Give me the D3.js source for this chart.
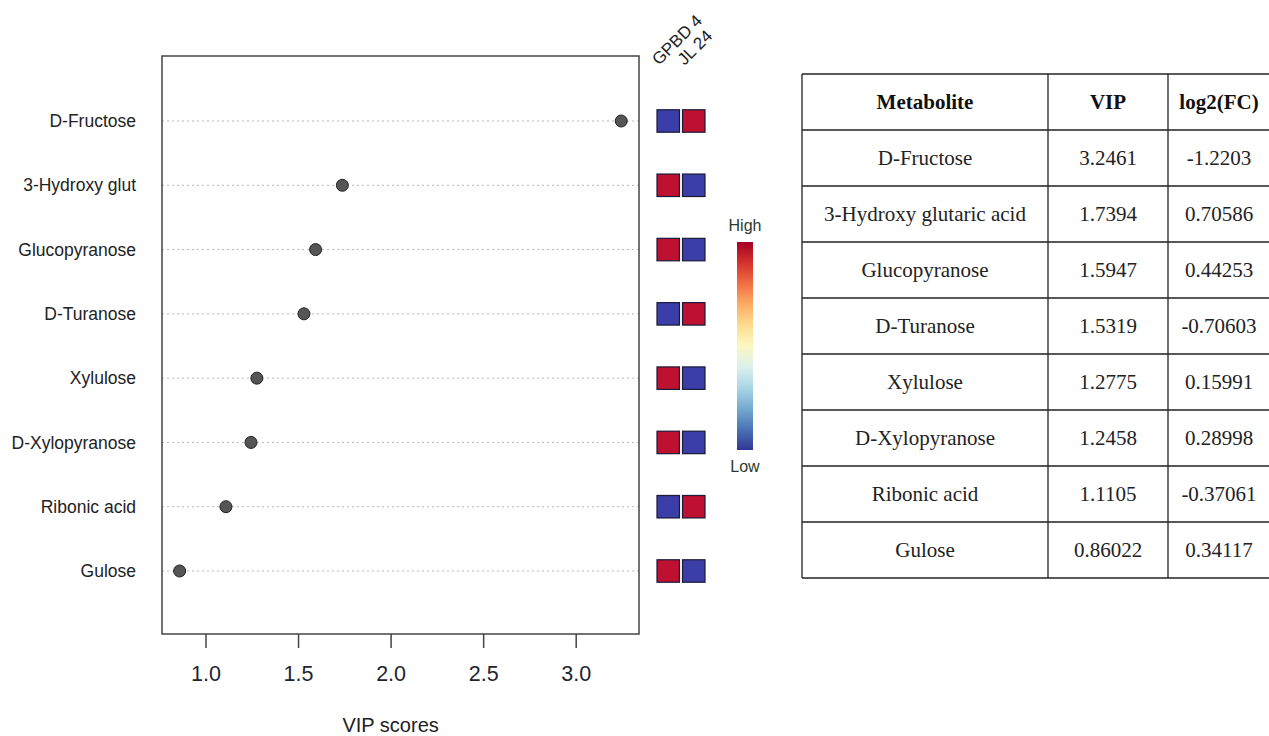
<!DOCTYPE html>
<html>
<head>
<meta charset="utf-8">
<script src="https://cdn.jsdelivr.net/npm/d3@7"></script>
<style>
  body { margin: 0; background: #fff; }
  svg { display: block; }
</style>
</head>
<body>
<div id="wrapper"></div>
<script>
// Data
const metabolites = ['D-Fructose', '3-Hydroxy glut', 'Glucopyranose', 'D-Turanose',
  'Xylulose', 'D-Xylopyranose', 'Ribonic acid', 'Gulose']
const fullNames = ['D-Fructose', '3-Hydroxy glutaric acid', 'Glucopyranose', 'D-Turanose',
  'Xylulose', 'D-Xylopyranose', 'Ribonic acid', 'Gulose']
const vipScores = [3.2461, 1.7394, 1.5947, 1.5319, 1.2775, 1.2458, 1.1105, 0.86022]
const vipText = ['3.2461', '1.7394', '1.5947', '1.5319', '1.2775', '1.2458', '1.1105', '0.86022']
const log2fcText = ['-1.2203', '0.70586', '0.44253', '-0.70603', '0.15991', '0.28998', '-0.37061', '0.34117']
const groups = ['GPBD 4', 'JL 24']
const gpbdLevel = ['low', 'high', 'high', 'low', 'high', 'high', 'low', 'high']
const jlLevel = ['high', 'low', 'low', 'high', 'low', 'low', 'high', 'low']
const xTicks = [1.0, 1.5, 2.0, 2.5, 3.0]
const tableHeader = ['Metabolite', 'VIP', 'log2(FC)']

const width = 1269
const height = 736
const sans = 'Liberation Sans, Arial, sans-serif'
const serif = 'Liberation Serif, Times New Roman, serif'

const box = { left: 162, right: 639, top: 56, bottom: 634 }

const svg = d3.select('#wrapper')
  .append('svg')
    .attr('width', width)
    .attr('height', height)

// Scales
const xScale = d3.scaleLinear()
  .domain([0.765, 3.342])
  .range([box.left, box.right])

const yScale = d3.scalePoint()
  .domain(metabolites)
  .range([121, 571])

// Grid lines
svg.append('g')
  .selectAll('line')
  .data(metabolites)
  .join('line')
    .attr('x1', box.left)
    .attr('x2', box.right)
    .attr('y1', d => yScale(d))
    .attr('y2', d => yScale(d))
    .attr('stroke', '#b8b8b8')
    .attr('stroke-width', 1)
    .attr('stroke-dasharray', '2,3')

// Box
svg.append('rect')
  .attr('x', box.left)
  .attr('y', box.top)
  .attr('width', box.right - box.left)
  .attr('height', box.bottom - box.top)
  .attr('fill', 'none')
  .attr('stroke', '#444')
  .attr('stroke-width', 1.5)

// Points
svg.append('g')
  .selectAll('circle')
  .data(metabolites)
  .join('circle')
    .attr('cx', (d, i) => xScale(vipScores[i]))
    .attr('cy', d => yScale(d))
    .attr('r', 6)
    .attr('fill', '#555')
    .attr('stroke', '#222')
    .attr('stroke-width', 1)

// Y labels
svg.append('g')
  .selectAll('text')
  .data(metabolites)
  .join('text')
    .attr('x', 136)
    .attr('y', d => yScale(d))
    .attr('dy', '0.35em')
    .attr('text-anchor', 'end')
    .attr('font-family', sans)
    .attr('font-size', 17.5)
    .attr('fill', '#222')
    .text(d => d)

// X axis
const xAxisGenerator = d3.axisBottom(xScale)
  .tickValues(xTicks)
  .tickFormat(d3.format('.1f'))
  .tickSize(14)
  .tickPadding(18)

const xAxis = svg.append('g')
  .attr('transform', `translate(0, ${box.bottom})`)
  .call(xAxisGenerator)
xAxis.select('.domain').remove()
xAxis.selectAll('line').attr('stroke', '#444').attr('stroke-width', 1.5)
xAxis.selectAll('text')
  .attr('font-family', sans)
  .attr('font-size', 21.5)
  .attr('fill', '#1e2430')

svg.append('text')
  .attr('x', xScale(2.0))
  .attr('y', 732)
  .attr('text-anchor', 'middle')
  .attr('font-family', sans)
  .attr('font-size', 20)
  .attr('fill', '#222')
  .text('VIP scores')

// Heat squares
const levelColor = d3.scaleOrdinal()
  .domain(['low', 'high'])
  .range(['#3b3ea6', '#be1030'])

const colX = d3.scaleBand()
  .domain(groups)
  .range([657, 705])
  .paddingInner(0.12)

const sq = colX.bandwidth()
const levels = [gpbdLevel, jlLevel]

groups.forEach((g, gi) => {
  svg.append('g')
    .selectAll('rect')
    .data(metabolites)
    .join('rect')
      .attr('x', colX(g))
      .attr('y', d => yScale(d) - sq / 2)
      .attr('width', sq)
      .attr('height', sq)
      .attr('fill', (d, i) => levelColor(levels[gi][i]))
      .attr('stroke', '#1a1a3a')
      .attr('stroke-width', 1.2)

  svg.append('text')
    .attr('transform', `translate(${colX(g) + 2}, 66) rotate(-45)`)
    .attr('font-family', sans)
    .attr('font-size', 17)
    .attr('fill', '#222')
    .text(g)
})

// Color legend
const defs = svg.append('defs')
const grad = defs.append('linearGradient')
  .attr('id', 'legendGrad')
  .attr('x1', 0).attr('x2', 0).attr('y1', 0).attr('y2', 1)
d3.range(0, 1.0001, 0.1).forEach(t => {
  grad.append('stop')
    .attr('offset', t)
    .attr('stop-color', d3.interpolateRdYlBu(t))
})

const legend = { x: 737, y: 242, w: 16, h: 208 }
svg.append('rect')
  .attr('x', legend.x)
  .attr('y', legend.y)
  .attr('width', legend.w)
  .attr('height', legend.h)
  .attr('fill', 'url(#legendGrad)')

svg.append('text')
  .attr('x', legend.x + legend.w / 2)
  .attr('y', legend.y - 11)
  .attr('text-anchor', 'middle')
  .attr('font-family', sans)
  .attr('font-size', 16)
  .attr('fill', '#2a3a2a')
  .text('High')

svg.append('text')
  .attr('x', legend.x + legend.w / 2)
  .attr('y', legend.y + legend.h + 22)
  .attr('text-anchor', 'middle')
  .attr('font-family', sans)
  .attr('font-size', 16)
  .attr('fill', '#2a3a2a')
  .text('Low')

// Table
const colEdges = [802, 1048, 1168, 1290]
const headerTop = 74
const headerBottom = 130
const rowScale = d3.scaleLinear()
  .domain([0, metabolites.length])
  .range([headerBottom, 578])

const table = svg.append('g')

const hLines = [headerTop].concat(d3.range(metabolites.length + 1).map(i => rowScale(i)))
table.selectAll('line.h')
  .data(hLines)
  .join('line')
    .attr('class', 'h')
    .attr('x1', colEdges[0])
    .attr('x2', colEdges[3])
    .attr('y1', d => d)
    .attr('y2', d => d)
    .attr('stroke', '#222')
    .attr('stroke-width', 1.3)

table.selectAll('line.v')
  .data(colEdges.slice(0, 3))
  .join('line')
    .attr('class', 'v')
    .attr('x1', d => d)
    .attr('x2', d => d)
    .attr('y1', headerTop)
    .attr('y2', 578)
    .attr('stroke', '#222')
    .attr('stroke-width', 1.3)

const colCenters = [925, 1108, 1219]

table.selectAll('text.head')
  .data(tableHeader)
  .join('text')
    .attr('class', 'head')
    .attr('x', (d, i) => colCenters[i])
    .attr('y', (headerTop + headerBottom) / 2)
    .attr('dy', '0.35em')
    .attr('text-anchor', 'middle')
    .attr('font-family', serif)
    .attr('font-weight', 'bold')
    .attr('font-size', 21)
    .attr('fill', '#111')
    .text(d => d)

const tableCols = [fullNames, vipText, log2fcText]
tableCols.forEach((col, ci) => {
  table.append('g')
    .selectAll('text')
    .data(col)
    .join('text')
      .attr('x', colCenters[ci])
      .attr('y', (d, i) => (rowScale(i) + rowScale(i + 1)) / 2)
      .attr('dy', '0.35em')
      .attr('text-anchor', 'middle')
      .attr('font-family', serif)
      .attr('font-size', 21)
      .attr('fill', '#222')
      .text(d => d)
})
</script>
</body>
</html>
